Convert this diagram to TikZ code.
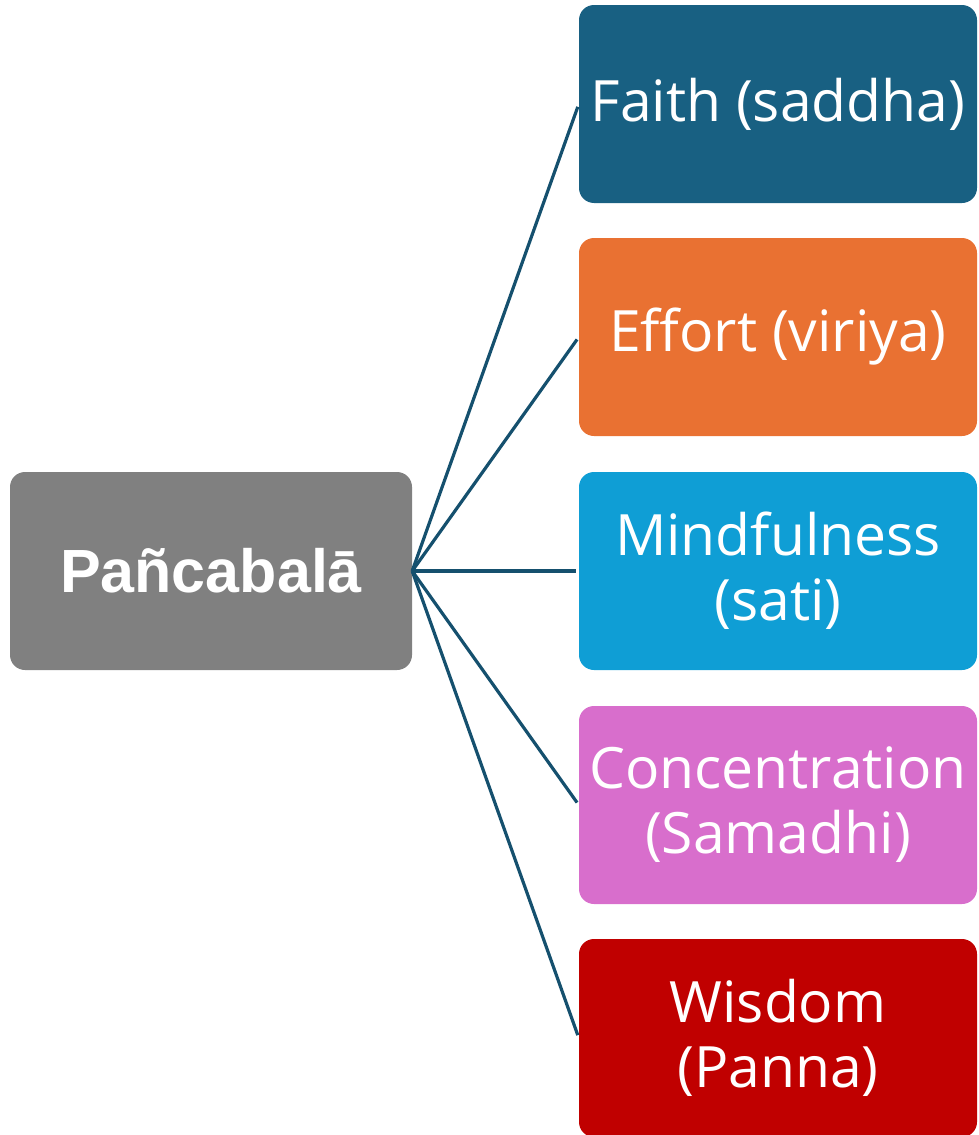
\documentclass[tikz,border=0pt]{standalone}
\usepackage{fontspec}
\setmainfont{Open Sans}
\newfontfamily\titlefont{Liberation Sans}
\definecolor{rootgray}{HTML}{808080}
\definecolor{faithblue}{HTML}{186082}
\definecolor{effortorange}{HTML}{E97132}
\definecolor{mindcyan}{HTML}{0F9ED5}
\definecolor{concpink}{HTML}{D86ECC}
\definecolor{wisdomred}{HTML}{C00000}
\definecolor{linkteal}{HTML}{15506E}
\begin{document}
\begin{tikzpicture}[x=1pt,y=-1pt,
  box/.style={rounded corners=15pt, minimum width=398pt, minimum height=198pt,
    inner sep=0pt, text=white, align=center,
    font=\fontsize{57}{65}\selectfont},
  rootbox/.style={rounded corners=15pt, minimum width=402pt, minimum height=198pt,
    inner sep=0pt, text=white, fill=rootgray,
    font=\titlefont\bfseries\fontsize{61}{70}\selectfont},
  link/.style={draw=linkteal, line width=3.2pt, shorten >=3pt}]
  \useasboundingbox (0,0) rectangle (978,1135);

  % root node
  \node[rootbox] (root) at (211,571) {Pañcabalā};

  % the five powers
  \node[box, fill=faithblue]    (faith)   at (778,104)  {Faith (saddha)};
  \node[box, fill=effortorange] (effort)  at (778,337)  {Effort (viriya)};
  \node[box, fill=mindcyan]     (mind)    at (778,571)  {Mindfulness\\(sati)};
  \node[box, fill=concpink]     (conc)    at (778,805)  {Concentration\\(Samadhi)};
  \node[box, fill=wisdomred]    (wisdom)  at (778,1038) {Wisdom\\(Panna)};

  % connectors
  \foreach \t in {faith,effort,mind,conc,wisdom}
    \draw[link] (root.east) -- (\t.west);
\end{tikzpicture}
\end{document}
